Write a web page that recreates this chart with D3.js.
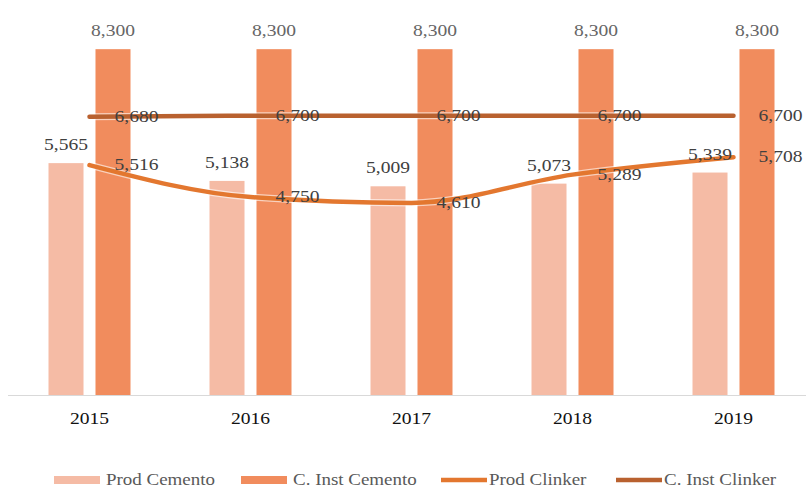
<!DOCTYPE html>
<html>
<head>
<meta charset="utf-8">
<script src="https://cdn.jsdelivr.net/npm/d3@7"></script>
<style>
  html, body { margin: 0; padding: 0; background: #fff; }
  svg { display: block; }
  text { font-family: "Liberation Serif", "DejaVu Serif", serif; }
</style>
</head>
<body>
<svg id="chart" width="809" height="489"></svg>
<script>
// Cement and clinker: production vs. installed capacity (thousand t)
const years = ["2015", "2016", "2017", "2018", "2019"];
const prodCemento = [5565, 5138, 5009, 5073, 5339];
const instCemento = [8300, 8300, 8300, 8300, 8300];
const prodClinker = [5516, 4750, 4610, 5289, 5708];
const instClinker = [6680, 6700, 6700, 6700, 6700];
const seriesNames = ["Prod Cemento", "C. Inst Cemento", "Prod Clinker", "C. Inst Clinker"];

const colors = {
  prodCemento: "#F5BBA5",
  instCemento: "#F18C5D",
  prodClinker: "#E3772F",
  instClinker: "#B9612F"
};

const svg = d3.select("#chart");
const fmt = d3.format(",");
const SX = 1.15; // horizontal stretch of the serif labels
const fontSize = 17;

const baseY = 395;
const x0 = d3.scaleBand().domain(years).range([9, 814]).padding(0);
const x1 = d3.scaleBand().domain(["prod", "inst"]).range([-41, 41]).paddingInner(0.255).paddingOuter(0);
const y = d3.scaleLinear().domain([0, 9000]).range([baseY, 20]);
const cx = d => x0(d) + x0.bandwidth() / 2;

function label(g, x, yy, txt, opts = {}) {
  g.append("text")
    .attr("transform", `translate(${x},${yy}) scale(${SX},1)`)
    .attr("text-anchor", opts.anchor || "middle")
    .attr("dominant-baseline", opts.baseline || "auto")
    .attr("font-size", opts.size || fontSize)
    .attr("font-weight", opts.weight || "normal")
    .attr("fill", opts.fill || "#404040")
    .text(txt);
}

// Baseline axis
svg.append("line")
  .attr("x1", 8).attr("x2", 806)
  .attr("y1", baseY + 0.5).attr("y2", baseY + 0.5)
  .attr("stroke", "#d9d9d9").attr("stroke-width", 1);

// Bars
const bars = svg.append("g");
years.forEach((yr, i) => {
  const c = cx(yr);
  bars.append("rect")
    .attr("x", c + x1("prod")).attr("width", x1.bandwidth())
    .attr("y", y(prodCemento[i])).attr("height", y(0) - y(prodCemento[i]))
    .attr("fill", colors.prodCemento);
  bars.append("rect")
    .attr("x", c + x1("inst")).attr("width", x1.bandwidth())
    .attr("y", y(instCemento[i])).attr("height", y(0) - y(instCemento[i]))
    .attr("fill", colors.instCemento);
});

// Lines (smoothed)
const lineGen = d3.line()
  .x((d, i) => cx(years[i]))
  .y(d => y(d))
  .curve(d3.curveMonotoneX);

[[instClinker, colors.instClinker], [prodClinker, colors.prodClinker]].forEach(([vals, col]) => {
  svg.append("path").datum(vals)
    .attr("d", lineGen)
    .attr("fill", "none")
    .attr("stroke", "#fff").attr("stroke-opacity", 0.6)
    .attr("stroke-width", 7).attr("stroke-linecap", "round");
  svg.append("path").datum(vals)
    .attr("d", lineGen)
    .attr("fill", "none")
    .attr("stroke", col)
    .attr("stroke-width", 4.5).attr("stroke-linecap", "round");
});

// Data labels
const labels = svg.append("g");
years.forEach((yr, i) => {
  const c = cx(yr);
  label(labels, c + x1("prod") + x1.bandwidth() / 2, y(prodCemento[i]) - 13, fmt(prodCemento[i]), { fill: "#404040" });
  label(labels, c + x1("inst") + x1.bandwidth() / 2, y(instCemento[i]) - 13, fmt(instCemento[i]), { fill: "#666666" });
  label(labels, c + 25, y(instClinker[i]) + 1, fmt(instClinker[i]), { anchor: "start", baseline: "middle" });
  label(labels, c + 25, y(prodClinker[i]) + 1, fmt(prodClinker[i]), { anchor: "start", baseline: "middle" });
});

// Category labels
const axisG = svg.append("g");
years.forEach(yr => {
  label(axisG, cx(yr), 424, yr, { fill: "#111111", size: 17 });
});

// Legend
const legend = svg.append("g");
const legendItems = [
  { name: seriesNames[0], color: colors.prodCemento, type: "rect", x: 54 },
  { name: seriesNames[1], color: colors.instCemento, type: "rect", x: 241 },
  { name: seriesNames[2], color: colors.prodClinker, type: "line", x: 441 },
  { name: seriesNames[3], color: colors.instClinker, type: "line", x: 616 }
];
const ly = 480;
legendItems.forEach(it => {
  if (it.type === "rect") {
    legend.append("rect").attr("x", it.x).attr("y", ly - 4).attr("width", 46).attr("height", 8).attr("fill", it.color);
  } else {
    legend.append("line").attr("x1", it.x).attr("x2", it.x + 46)
      .attr("y1", ly).attr("y2", ly)
      .attr("stroke", it.color).attr("stroke-width", 4.5);
  }
  label(legend, it.x + (it.type === "rect" ? 52 : 48), ly + 1, it.name, { anchor: "start", baseline: "middle", fill: "#595959", size: 16.5 });
});
</script>
</body>
</html>
